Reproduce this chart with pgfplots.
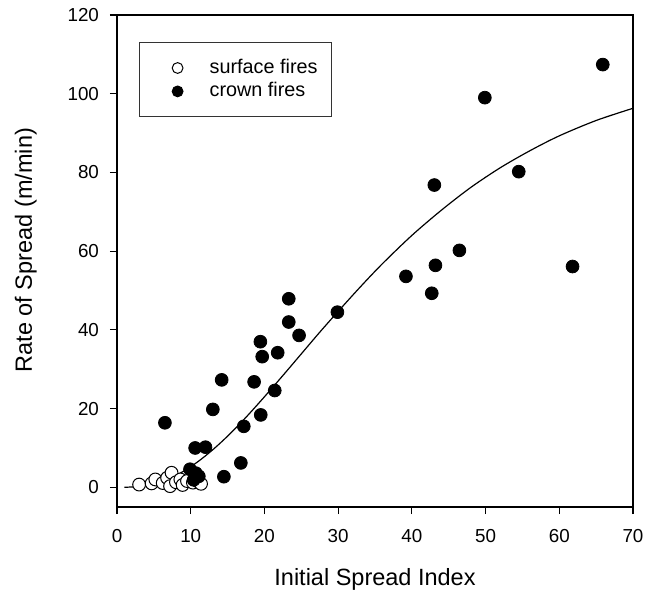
\documentclass[border=0pt]{standalone}
\usepackage{fontspec}
\setmainfont{Liberation Sans}
\usepackage{pgfplots}
\pgfplotsset{compat=1.18}

% fitted curve
\pgfplotstableread{
x y
1 0.01
3 0.22
5 0.90
7 2.17
9 4.06
11 6.55
13 9.56
15 13.0
17.5 17.8
20 23.0
22.5 28.4
25 33.9
27.5 39.4
30 44.7
33 50.9
36 56.8
40 64.0
44 70.4
48 76.2
52 81.2
56 85.5
60 89.3
65 93.2
70 96.3
}\fitcurve

\pgfplotstableread{
x y
3.0 0.7
4.7 1.0
5.2 2.0
6.2 1.1
6.8 2.4
7.2 0.3
7.4 3.7
8.0 1.3
8.6 2.0
8.9 0.6
9.5 1.6
10.3 1.2
11.0 1.5
11.4 0.9
}\surface

\pgfplotstableread{
x y
6.5 16.4
9.9 4.6
10.4 1.9
10.7 3.6
11.1 2.8
10.6 10.0
12.0 10.2
13.0 19.8
14.2 27.3
14.5 2.7
16.8 6.2
17.2 15.5
18.6 26.8
19.5 18.4
19.45 37.0
19.7 33.2
21.4 24.6
21.8 34.2
23.3 47.9
23.3 42.0
24.7 38.6
29.9 44.5
39.2 53.6
42.7 49.3
43.05 76.8
43.2 56.4
46.45 60.2
49.9 99.0
54.5 80.2
61.8 56.1
65.9 107.4
}\crown

\begin{document}
\begin{tikzpicture}
\begin{axis}[
    name=ax,
    scale only axis,
    width=258pt, height=246pt,
    xmin=0, xmax=70, ymin=-5, ymax=120,
    xtick={0,10,...,70},
    ytick={0,20,...,120},
    tick pos=left,
    tick align=outside,
    major tick length=3.5pt,
    axis line style={line width=0.6pt},
    tick style={line width=0.6pt, black},
    /pgf/number format/assume math mode=true,
    ticklabel style={font=\fontsize{9.4}{11}\selectfont},
    xticklabel style={yshift=-4pt},
    yticklabel style={xshift=-2pt},
    xlabel={Initial Spread Index},
    ylabel={Rate of Spread (m/min)},
    label style={font=\fontsize{11.75}{14}\selectfont},
    xlabel style={at={(axis description cs:0.5,0)}, anchor=base, yshift=-39pt},
    ylabel style={at={([xshift=-42.6pt]axis description cs:0,0.522)}, anchor=base},
    legend style={at={(11pt,232.5pt)}, anchor=north west,
      draw=black!80, line width=0.5pt,
      inner xsep=7pt, inner ysep=8pt,
      row sep=2.2pt, column sep=0pt,
      font=\fontsize{9.9}{11}\selectfont,
      nodes={inner sep=0pt, text height=7.5pt, text depth=2pt, anchor=west}},
    legend cell align=left,
    legend image code/.code={
      \path (-11.8pt,0pt) (15.8pt,0pt);
      \draw[#1, mark size=2.7pt] plot coordinates {(0pt,0pt)};
    },
    ]
\addplot[only marks, mark=*, mark size=3.2pt, mark options={fill=white, draw=black, line width=0.5pt}] table {\surface};
\addplot[only marks, mark=*, mark size=3.2pt, mark options={fill=black, draw=black}] table {\crown};
\addplot[black, line width=0.6pt, smooth, no marks, forget plot] table {\fitcurve};
\legend{surface fires, crown fires}
\end{axis}
\pgfresetboundingbox
\path (ax.south west) ++(-58.5pt,-41.5pt) rectangle ++(323pt,295pt);
\end{tikzpicture}
\end{document}
